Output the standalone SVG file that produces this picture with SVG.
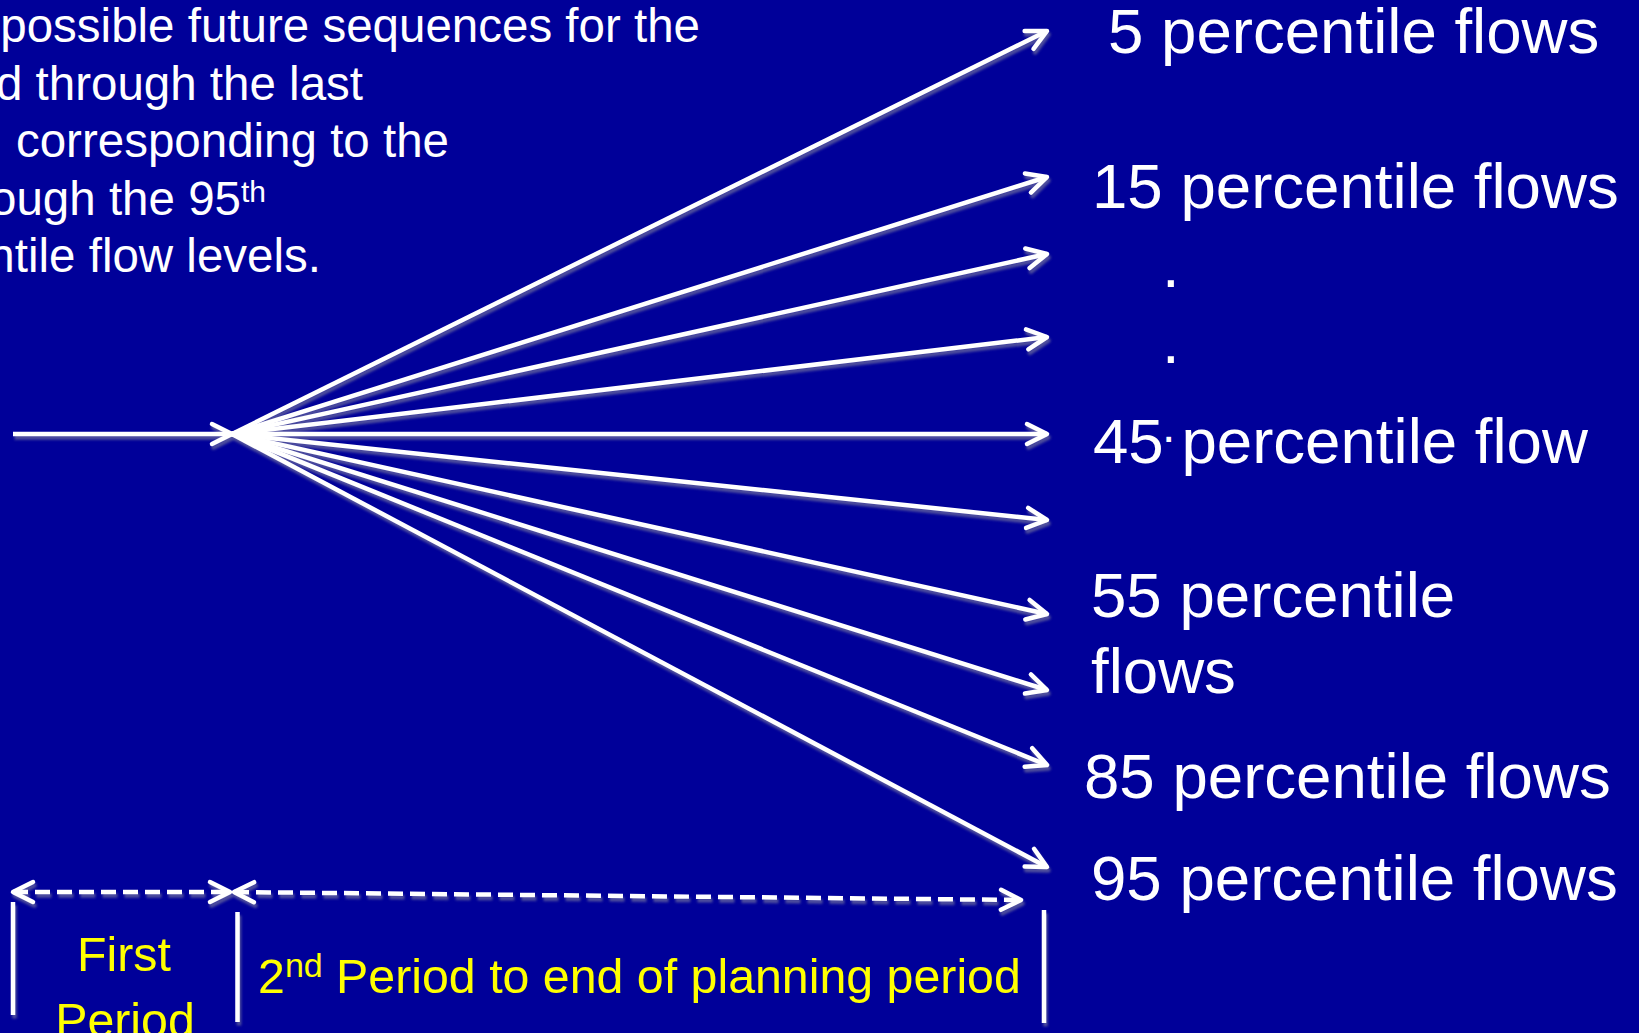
<svg xmlns="http://www.w3.org/2000/svg" width="1639" height="1033" viewBox="0 0 1639 1033">
  <defs>
    <style>
      .w { fill: #ffffff; font-family: "Liberation Sans", Arial, sans-serif; }
      .y { fill: #ffff00; font-family: "Liberation Sans", Arial, sans-serif; font-size: 48.3px; }
      .lbl { font-size: 63.6px; }
      .para { font-size: 47.5px; }
      .ln { stroke: #ffffff; stroke-width: 4.5; fill: none; }
      .dash { stroke: #ffffff; stroke-width: 4.5; fill: none; stroke-dasharray: 15 7; }
    </style>
    <marker id="arr" markerUnits="userSpaceOnUse" viewBox="-26 -16 32 32" markerWidth="32" markerHeight="32" refX="0" refY="0" orient="auto-start-reverse" overflow="visible">
      <path d="M-20,-10 L0,0 L-20,10" fill="none" stroke="#ffffff" stroke-width="4.5" stroke-dasharray="none" stroke-linecap="round" stroke-linejoin="round"/>
    </marker>
    <filter id="shadow" x="-5%" y="-5%" width="110%" height="110%">
      <feDropShadow dx="1.5" dy="3.5" stdDeviation="0.8" flood-color="#9090a0" flood-opacity="0.55"/>
    </filter>
  </defs>

  <rect width="1639" height="1033" fill="#000099"/>

  <g id="intro-text" class="w para">
    <text x="700" y="42" text-anchor="end">possible future sequences for the</text>
    <text x="363" y="100" text-anchor="end">d through the last</text>
    <text x="449" y="157" text-anchor="end">corresponding to the</text>
    <text x="266" y="215" text-anchor="end">ough the 95<tspan font-size="30" dy="-13">th</tspan></text>
    <text x="321" y="272" text-anchor="end">ntile flow levels.</text>
  </g>

  <g id="connectors" filter="url(#shadow)">
    <line class="ln" x1="13" y1="434" x2="232" y2="434" marker-end="url(#arr)"/>
    <line class="ln" x1="232" y1="434" x2="1047" y2="31" marker-end="url(#arr)"/>
    <line class="ln" x1="232" y1="434" x2="1047" y2="177" marker-end="url(#arr)"/>
    <line class="ln" x1="232" y1="434" x2="1047" y2="254" marker-end="url(#arr)"/>
    <line class="ln" x1="232" y1="434" x2="1047" y2="337" marker-end="url(#arr)"/>
    <line class="ln" x1="232" y1="434" x2="1047" y2="434" marker-end="url(#arr)"/>
    <line class="ln" x1="232" y1="434" x2="1047" y2="520" marker-end="url(#arr)"/>
    <line class="ln" x1="232" y1="434" x2="1047" y2="614" marker-end="url(#arr)"/>
    <line class="ln" x1="232" y1="434" x2="1047" y2="690" marker-end="url(#arr)"/>
    <line class="ln" x1="232" y1="434" x2="1047" y2="765" marker-end="url(#arr)"/>
    <line class="ln" x1="232" y1="434" x2="1047" y2="867" marker-end="url(#arr)"/>
    <line class="dash" x1="13" y1="892" x2="230" y2="892" marker-start="url(#arr)" marker-end="url(#arr)"/>
    <line class="dash" x1="234" y1="892" x2="1021" y2="900" marker-start="url(#arr)" marker-end="url(#arr)"/>
    <line class="ln" x1="13" y1="902" x2="13" y2="1015"/>
    <line class="ln" x1="237.5" y1="912" x2="237.5" y2="1022"/>
    <line class="ln" x1="1044" y1="910" x2="1044" y2="1023"/>
  </g>

  <g id="label-5" class="w lbl"><text x="1108" y="53">5 percentile flows</text></g>
  <g id="label-15" class="w lbl"><text x="1092" y="208">15 percentile flows</text></g>
  <g id="dot-1" class="w lbl"><text x="1162" y="287">.</text></g>
  <g id="dot-2" class="w lbl"><text x="1162" y="363">.</text></g>
  <g id="label-45" class="w lbl"><text x="1093" y="463">45 percentile flow</text></g>
  <g id="dot-3" class="w"><text x="1162" y="442" font-size="48">.</text></g>
  <g id="label-55" class="w lbl"><text x="1091" y="617">55 percentile</text><text x="1091" y="693">flows</text></g>
  <g id="label-85" class="w lbl"><text x="1084" y="798">85 percentile flows</text></g>
  <g id="label-95" class="w lbl"><text x="1091" y="900">95 percentile flows</text></g>

  <g id="first-period" class="y">
    <text x="124" y="971" text-anchor="middle">First</text>
    <text x="125" y="1037" text-anchor="middle">Period</text>
  </g>
  <g id="second-period" class="y">
    <text x="258" y="993">2<tspan font-size="34" dy="-16">nd</tspan><tspan dy="16"> Period to end of planning period</tspan></text>
  </g>
</svg>
